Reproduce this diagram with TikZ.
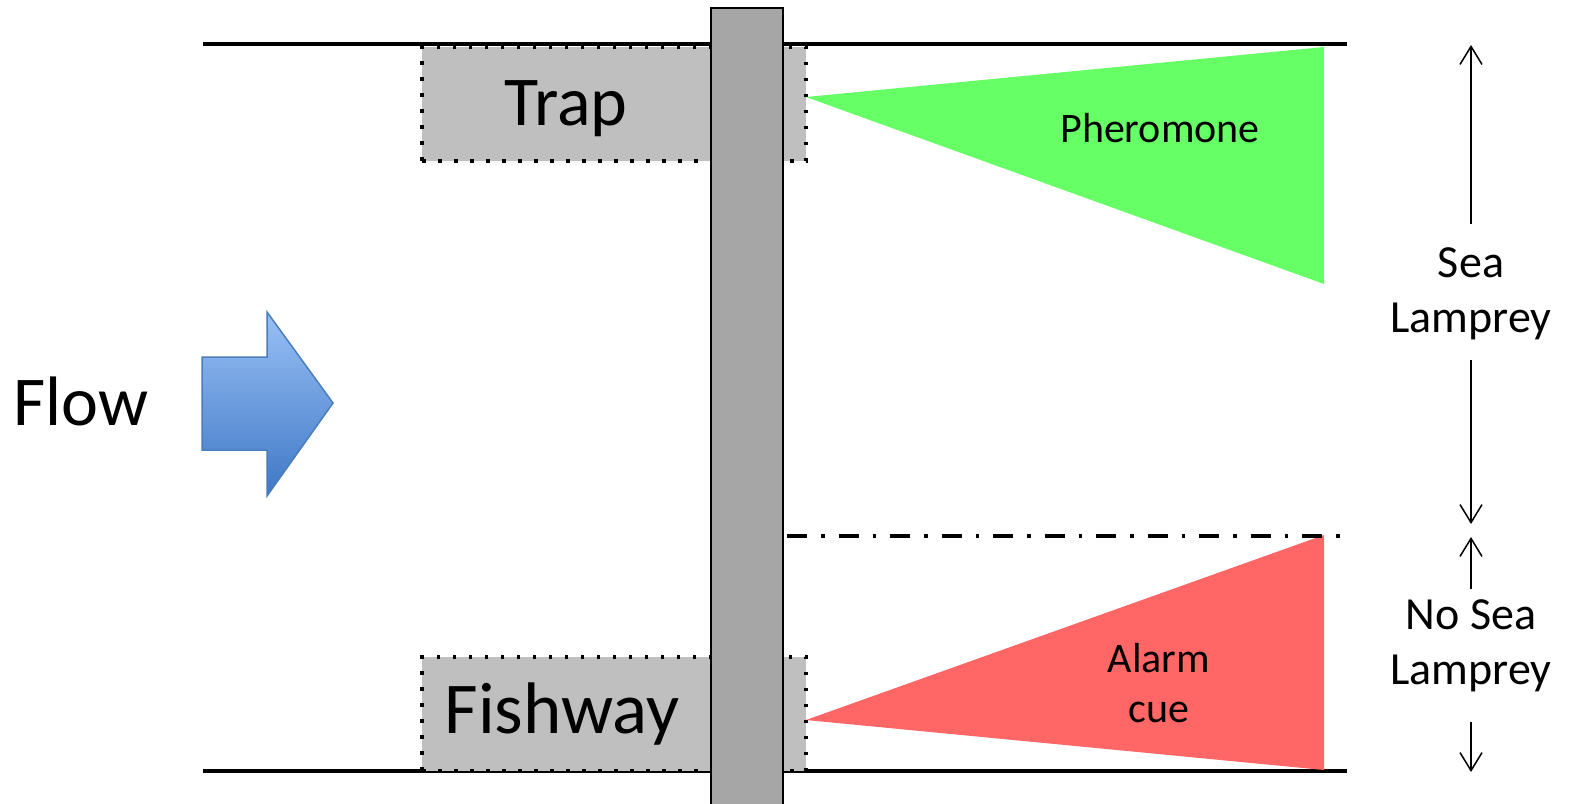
\documentclass[tikz,border=0pt]{standalone}
\usepackage{fontspec}
\setmainfont{Carlito}
\usetikzlibrary{arrows.meta}
\definecolor{gfill}{HTML}{66FF66}
\definecolor{rfill}{HTML}{FF6666}
\definecolor{boxgray}{HTML}{BFBFBF}
\definecolor{damgray}{HTML}{A6A6A6}
\definecolor{flowtop}{HTML}{99C0F5}
\definecolor{flowbot}{HTML}{3F78C6}
\definecolor{flowline}{HTML}{4A7EBB}
\tikzset{
  river/.style={line width=1.75pt, black},
  lockbox/.style={fill=boxgray, draw=black, line width=1.75pt, dash pattern=on 1.75pt off 6.25pt, inner sep=0pt, minimum width=192pt, minimum height=57pt},
  dam/.style={fill=damgray, draw=black, line width=1pt},
  bigtext/.style={font=\fontsize{35}{42}\selectfont, inner sep=0pt},
  midtext/.style={font=\fontsize{21}{25}\selectfont, inner sep=0pt, align=center},
  sidetext/.style={font=\fontsize{23}{27.5}\selectfont, inner sep=0pt, align=center},
  sidearrow/.style={line width=0.75pt, -{Straight Barb[length=9pt, width=11pt, line width=0.75pt]}},
  sep/.style={line width=1.75pt, dash pattern=on 10pt off 7pt on 1.75pt off 7pt, dash phase=-1pt},
}
\begin{document}
\begin{tikzpicture}[x=0.5pt, y=-0.5pt]
\useasboundingbox (0,0) rectangle (1573,803);
% river banks
\draw[river] (203,44) -- (1347,44);
\draw[river] (203,771) -- (1347,771);
% boxes
\node[lockbox] (trap) at (614,104) {};
\node[lockbox] (fishway) at (614,714) {};
% plumes
\fill[gfill] (806,97) -- (1324,47) -- (1324,284) -- cycle;
\fill[rfill] (806,720) -- (1324,535) -- (1324,770) -- cycle;
% separator
\draw[sep] (785,536) -- (1347,536);
% dam
\draw[dam] (711,8) rectangle (783,806);
% texts
\node[bigtext, anchor=base] (traptext) at (566,125) {Trap};
\node[bigtext, anchor=base, font=\fontsize{36.5}{42}\selectfont] (fishtext) at (562,733) {Fishway};
\node[bigtext, anchor=base] (flowtext) at (81,425) {Flow};
\node[midtext, anchor=base] (pher) at (1160,142) {Pheromone};
\node[midtext] (alarm) at (1159,683) {Alarm\\cue};
\node[sidetext] (sea) at (1471,294) {Sea\\Lamprey};
\node[sidetext] (nosea) at (1471,646) {No Sea\\Lamprey};
% flow arrow
\draw[flowline, line width=0.75pt, top color=flowtop, bottom color=flowbot]
  (202,357) -- (267,357) -- (267,312) -- (333,403) -- (267,496) -- (267,450) -- (202,450) -- cycle;
% side arrows
\coordinate (a1s) at (1471,224);
\coordinate (a1e) at (1471,45);
\coordinate (a2s) at (1471,360);
\coordinate (a2e) at (1471,524);
\coordinate (a3s) at (1471,589);
\coordinate (a3e) at (1471,537);
\coordinate (a4s) at (1471,722);
\coordinate (a4e) at (1471,772);
\draw[sidearrow] (a1s) -- (a1e);
\draw[sidearrow] (a2s) -- (a2e);
\draw[sidearrow] (a3s) -- (a3e);
\draw[sidearrow] (a4s) -- (a4e);
\end{tikzpicture}
\end{document}
